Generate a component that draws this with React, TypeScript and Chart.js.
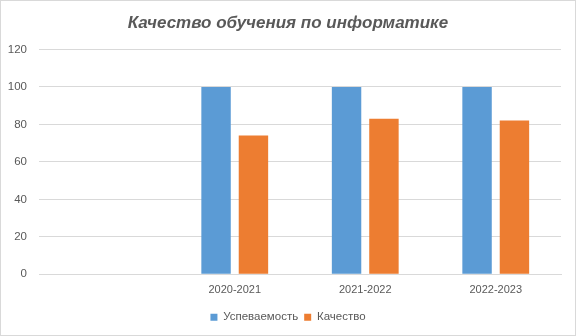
import React, { useEffect, useRef } from "react";
import { Chart, registerables } from "chart.js";

Chart.register(...registerables);

const titleText = "Качество обучения по информатике";
const categories = ["", "2020-2021", "2021-2022", "2022-2023"];
const seriesNames = ["Успеваемость", "Качество"];
const uspevaemost = [null, 100, 100, 100];
const kachestvo = [null, 74, 83, 82];
const yMin = 0;
const yMax = 120;
const yStep = 20;

export default function App() {
  const ref = useRef<HTMLCanvasElement | null>(null);
  useEffect(() => {
    if (!ref.current) return;
    const font = "'Liberation Sans', Arial, sans-serif";
    const chart = new Chart(ref.current, {
      type: "bar",
      data: {
        labels: categories,
        datasets: [
          {
            label: seriesNames[0],
            data: uspevaemost,
            backgroundColor: "#5B9BD5",
            categoryPercentage: 0.573,
            barPercentage: 0.787,
          },
          {
            label: seriesNames[1],
            data: kachestvo,
            backgroundColor: "#ED7D31",
            categoryPercentage: 0.573,
            barPercentage: 0.787,
          },
        ],
      },
      options: {
        responsive: false,
        animation: false,
        devicePixelRatio: 1,
        layout: { padding: { left: 0, right: 0, top: 0, bottom: 2 } },
        plugins: {
          title: {
            display: true,
            text: titleText,
            color: "#595959",
            font: { family: font, size: 17, weight: "bold", style: "italic" },
            padding: { top: 12, bottom: 16 },
          },
          legend: {
            display: true,
            position: "bottom",
            labels: {
              boxWidth: 7,
              boxHeight: 7,
              color: "#595959",
              font: { family: font, size: 11.5 },
              padding: 6,
            },
          },
          tooltip: { enabled: false },
        },
        scales: {
          x: {
            grid: { display: false, drawTicks: false },
            border: { display: true, color: "#d9d9d9" },
            ticks: { color: "#595959", font: { family: font, size: 11 }, padding: 9 },
          },
          y: {
            min: yMin,
            max: yMax,
            afterFit: (s: any) => {
              s.width = 38;
            },
            grid: { color: "#d9d9d9", drawTicks: false },
            border: { display: false },
            ticks: {
              stepSize: yStep,
              color: "#595959",
              font: { family: font, size: 11.5 },
              padding: 12,
            },
          },
          yPad: {
            position: "right",
            min: yMin,
            max: yMax,
            afterFit: (s: any) => {
              s.width = 14;
            },
            grid: { display: false, drawTicks: false },
            border: { display: false },
            ticks: { display: false },
          },
        },
      },
    });
    return () => chart.destroy();
  }, []);
  return (
    <div
      style={{
        position: "absolute",
        left: 0,
        top: 0,
        width: 576,
        height: 336,
        background: "#fff",
        border: "1px solid #d9d9d9",
        boxSizing: "border-box",
      }}
    >
      <canvas ref={ref} width={574} height={334} style={{ display: "block" }} />
    </div>
  );
}
